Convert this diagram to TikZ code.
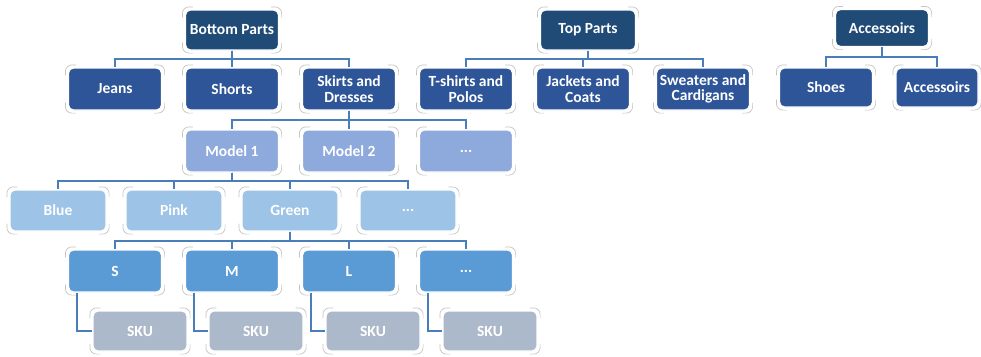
\documentclass[tikz,border=0pt]{standalone}
\usepackage{fontspec}
\setmainfont{Carlito}
\usetikzlibrary{calc}
\definecolor{cRoot}{HTML}{1F4B76}
\definecolor{cLone}{HTML}{2E5597}
\definecolor{cModel}{HTML}{8EA9DB}
\definecolor{cColor}{HTML}{9DC3E6}
\definecolor{cSize}{HTML}{5B9BD5}
\definecolor{cSku}{HTML}{ACB9CA}
\definecolor{cLine}{HTML}{4A7EB8}
\definecolor{cCorner}{HTML}{C4C4C4}
\newcommand\crn[1]{%
  \draw[cornerline] ([xshift=-2.5pt,yshift=-8pt]#1.north west) -- ++(0,4pt) arc[start angle=180,end angle=90,radius=6.5pt] -- ++(4pt,0);
  \draw[cornerline] ([xshift=-8pt,yshift=2.5pt]#1.north east) -- ++(4pt,0) arc[start angle=90,end angle=0,radius=6.5pt] -- ++(0,-4pt);
  \draw[cornerline] ([xshift=2.5pt,yshift=8pt]#1.south east) -- ++(0,-4pt) arc[start angle=0,end angle=-90,radius=6.5pt] -- ++(-4pt,0);
  \draw[cornerline] ([xshift=8pt,yshift=-2.5pt]#1.south west) -- ++(-4pt,0) arc[start angle=270,end angle=180,radius=6.5pt] -- ++(0,4pt);
}
\begin{document}
\begin{tikzpicture}[x=1pt,y=-1pt,
  box/.style={rectangle,rounded corners=5pt,draw=white,line width=1.2pt,text=white,
    font=\fontsize{15.5}{15.5}\selectfont\bfseries,align=center,inner sep=2pt,
    minimum width=93pt,minimum height=42pt},
  rootbox/.style={box,fill=cRoot,minimum height=40pt},
  lonebox/.style={box,fill=cLone},
  modelbox/.style={box,fill=cModel},
  colorbox/.style={box,fill=cColor,minimum width=96pt,minimum height=41pt},
  sizebox/.style={box,fill=cSize},
  skubox/.style={box,fill=cSku,minimum width=94pt,minimum height=40pt},
  conn/.style={draw=cLine,line width=2pt},
  cornerline/.style={draw=cCorner,line width=0.7pt}]
\useasboundingbox (0,0) rectangle (981,356);

% roots
\node[rootbox] (bp) at (232,30) {Bottom Parts};
\node[rootbox,minimum width=95pt] (tp) at (588,30) {Top Parts};
\node[rootbox,minimum height=37pt] (ac) at (882,28) {Accessoirs};

% level 1
\node[lonebox] (jeans) at (115,89) {Jeans};
\node[lonebox] (shorts) at (232,89) {Shorts};
\node[lonebox] (skirts) at (349,89) {Skirts and\\Dresses};
\node[lonebox] (tshirts) at (466,89) {T-shirts and\\Polos};
\node[lonebox] (jackets) at (583,89) {Jackets and\\Coats};
\node[lonebox] (sweaters) at (703,89) {Sweaters and\\Cardigans};
\node[lonebox,minimum height=39pt] (shoes) at (826,87.5) {Shoes};
\node[lonebox,minimum height=39pt,minimum width=82pt] (acc) at (937,87.5) {Accessoirs};

% models
\node[modelbox] (m1) at (232,151) {Model 1};
\node[modelbox] (m2) at (349,151) {Model 2};
\node[modelbox] (m3) at (466,151) {...};

% colours
\node[colorbox] (blue) at (58,210.5) {Blue};
\node[colorbox] (pink) at (174,210.5) {Pink};
\node[colorbox] (green) at (290,210.5) {Green};
\node[colorbox] (cdots) at (408,210.5) {...};

% sizes
\node[sizebox] (s) at (115,271) {S};
\node[sizebox] (m) at (232,271) {M};
\node[sizebox] (l) at (349,271) {L};
\node[sizebox] (sdots) at (466,271) {...};

% SKUs
\node[skubox] (k1) at (140,331) {SKU};
\node[skubox] (k2) at (256,331) {SKU};
\node[skubox] (k3) at (373,331) {SKU};
\node[skubox] (k4) at (490,331) {SKU};

% connectors
\foreach \p/\c in {bp/jeans,bp/shorts,bp/skirts,tp/tshirts,tp/jackets,tp/sweaters,ac/shoes,ac/acc,
  skirts/m1,skirts/m2,skirts/m3,m1/blue,m1/pink,m1/green,m1/cdots,green/s,green/m,green/l,green/sdots}
  \draw[conn] (\p.south) -- ($(\p.south)!0.5!(\p.south|-\c.north)$) -| (\c.north);
\foreach \p/\c in {s/k1,m/k2,l/k3,sdots/k4}
  \draw[conn] ([xshift=-38pt]\p.south) |- (\c.west);

% corner marks
\foreach \n in {bp,tp,ac,jeans,shorts,skirts,tshirts,jackets,sweaters,shoes,acc,m1,m2,m3,
  blue,pink,green,cdots,s,m,l,sdots,k1,k2,k3,k4}
  {\crn{\n}}
\end{tikzpicture}
\end{document}
